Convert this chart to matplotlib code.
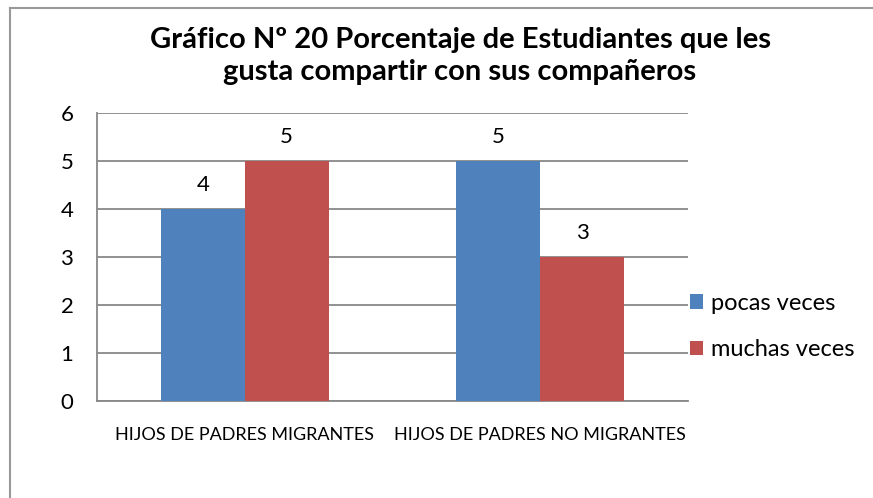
import matplotlib
matplotlib.use("Agg")
import matplotlib.pyplot as plt
from matplotlib.lines import Line2D
from matplotlib.patches import Patch
import numpy as np

categories = ["HIJOS DE PADRES MIGRANTES", "HIJOS DE PADRES NO MIGRANTES"]
series_names = ["pocas veces", "muchas veces"]
pocas = [4, 5]
muchas = [5, 3]
colors = ["#4F81BD", "#C0504D"]
title = "Gráfico Nº 20 Porcentaje de Estudiantes que les\ngusta compartir con sus compañeros"

plt.rcParams['font.family'] = ['Lato', 'DejaVu Sans']

fig = plt.figure(figsize=(8.73, 4.98), dpi=100)
ax = fig.add_axes([97/873, 1-401/498, (688-97)/873, (401-113)/498])

x = np.arange(len(categories))
w = 0.284
vals = [pocas, muchas]
for i, (name, v) in enumerate(zip(series_names, vals)):
    pos = x + (i - 0.5) * w
    bars = ax.bar(pos, v, width=w, color=colors[i], label=name, zorder=3)
    for b, val in zip(bars, v):
        ax.annotate(str(val), (b.get_x() + b.get_width()/2, val),
                    xytext=(0, 17), textcoords='offset points',
                    ha='center', va='center', fontsize=16, color='black')

ax.set_xlim(-0.5, 1.5)
ax.set_ylim(0, 6)
ax.set_yticks(range(0, 7))
ax.set_yticklabels([str(i) for i in range(0, 7)], fontsize=16)
ax.set_xticks(x)
ax.set_xticklabels(categories, fontsize=13)
ax.tick_params(axis='y', length=0, pad=17)
ax.tick_params(axis='x', length=0, pad=19)
ax.yaxis.grid(True, color='#888888', linewidth=1.3, zorder=0)
ax.set_axisbelow(True)
for s in ['top', 'right']:
    ax.spines[s].set_visible(False)
for s in ['left', 'bottom']:
    ax.spines[s].set_color('#888888')
    ax.spines[s].set_linewidth(1.3)

fig.text(460/873, 1-80/498, title, ha='center', va='baseline', fontsize=21,
         fontweight='bold', linespacing=1.3)

handles = [Patch(facecolor=c, edgecolor='none') for c in colors]
leg = fig.legend(handles, series_names, loc='center left',
                 bbox_to_anchor=(690/873, 1-326.5/498), frameon=False,
                 borderpad=0, borderaxespad=0,
                 fontsize=17, handlelength=0.55, handleheight=0.55,
                 handletextpad=0.34, labelspacing=1.07)

# figure border (top and left visible)
fig.add_artist(Line2D([10/873, 1], [1-8/498, 1-8/498], color='#999999', lw=1.5,
                      transform=fig.transFigure))
fig.add_artist(Line2D([10/873, 10/873], [0, 1-8/498], color='#999999', lw=1.5,
                      transform=fig.transFigure))

fig.savefig("out.png", dpi=100)
